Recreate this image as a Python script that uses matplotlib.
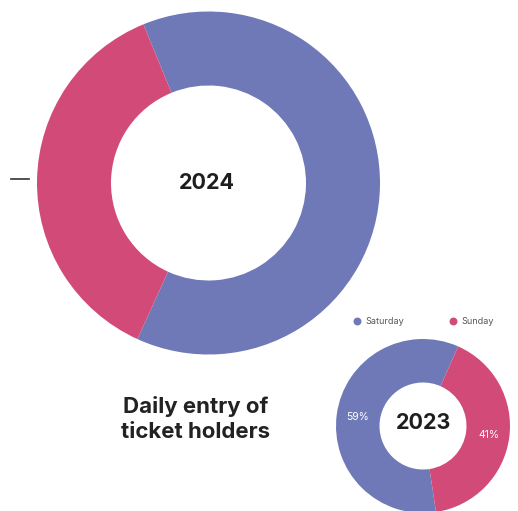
import matplotlib
matplotlib.use('Agg')
import matplotlib.pyplot as plt
from matplotlib.lines import Line2D

days = ['Saturday', 'Sunday']
share_2024 = [63, 37]
share_2023 = [59, 41]
colors = ['#6f79b7', '#d24b78']
title = 'Daily entry of\nticket holders'

plt.rcParams['font.family'] = ['Inter', 'DejaVu Sans']

W, H = 518, 511
fig = plt.figure(figsize=(W / 100, H / 100), dpi=100)
ax = fig.add_axes([0, 0, 1, 1])

# 2024 donut (large)
ax.pie(share_2024, colors=colors, startangle=245.5, counterclock=True,
       center=(208.5, H - 183), radius=171.5,
       wedgeprops=dict(width=74, edgecolor='none'), frame=True)
ax.text(207, H - 183, '2024', ha='center', va='center', fontsize=15.5,
        fontweight='bold', color='#1e1e1e')

# 2023 donut (small)
wedges, texts, autotexts = ax.pie(
    share_2023, colors=colors, startangle=66.2, counterclock=True,
    center=(423, H - 426), radius=87, autopct='%.0f%%', pctdistance=0.76,
    textprops=dict(color='white', fontsize=7.5),
    wedgeprops=dict(width=43.5, edgecolor='none'), frame=True)
ax.text(424, H - 423, '2023', ha='center', va='center', fontsize=15.5,
        fontweight='bold', color='#1e1e1e')

# pixel-style coordinates for the whole canvas
ax.set_xlim(0, W)
ax.set_ylim(0, H)
ax.set_aspect('equal')
ax.axis('off')

# legend
leg_x = [357, 453]
for x, name, c in zip(leg_x, days, colors):
    ax.scatter([x], [H - 321], s=22, color=c, zorder=5)
    ax.text(x + 8, H - 321, name, ha='left', va='center', fontsize=6.5,
            color='#555555')

ax.text(196, H - 419, title, ha='center', va='center', fontsize=16,
        fontweight='bold', color='#222222', linespacing=1.3)

# small dash on the left
ax.add_line(Line2D([11, 29], [H - 179, H - 179], color='#333333', lw=1.2))

fig.savefig('out.png', dpi=100)
